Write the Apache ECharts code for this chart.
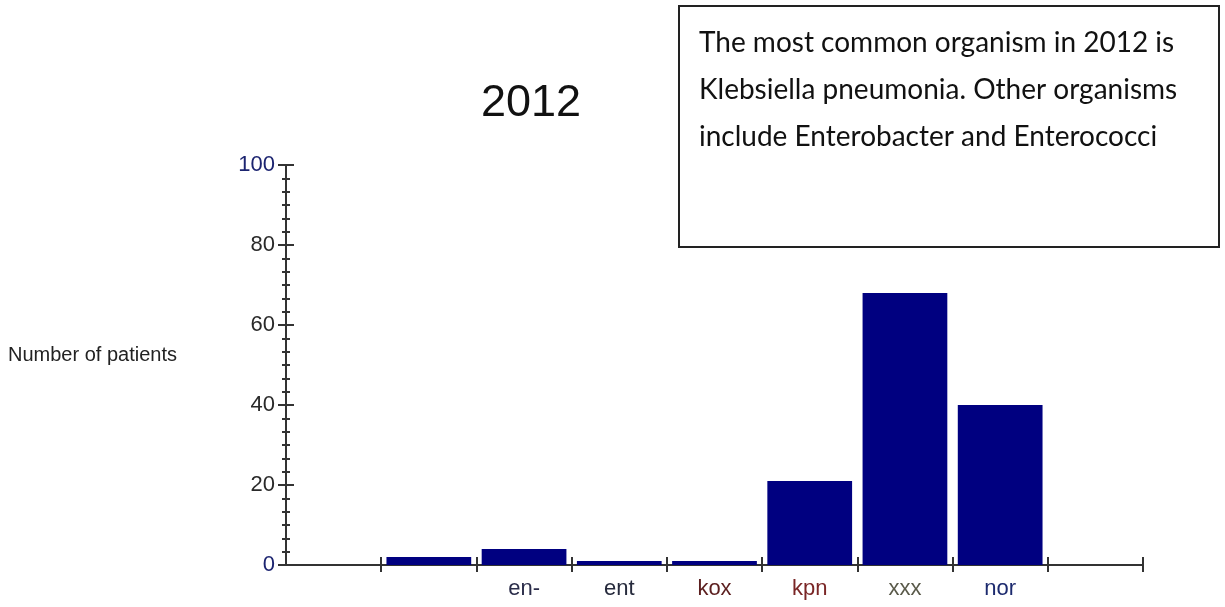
<!DOCTYPE html>
<html>
<head>
<meta charset="utf-8">
<script src="https://cdn.jsdelivr.net/npm/echarts@6/dist/echarts.min.js"></script>
<style>
  html, body { margin: 0; padding: 0; background: #fff; }
  #chart { width: 1225px; height: 607px; }
</style>
</head>
<body>
<div id="chart"></div>
<script>
// organism codes (first and last slots are empty on the original axis)
var categories = ['', '', 'en-', 'ent', 'kox', 'kpn', 'xxx', 'nor', ''];
var patients = [null, 2, 4, 1, 1, 21, 68, 40, null];
var yTicks = [0, 20, 40, 60, 80, 100];

var labelColors = {
  'en-': '#2b2d4a',
  'ent': '#262a3c',
  'kox': '#5c1f1f',
  'kpn': '#7a2626',
  'xxx': '#5a5a4a',
  'nor': '#1c2a6e'
};
var yLabelColors = { '0': '#1c2470', '100': '#1c2470' };

var chart = echarts.init(document.getElementById('chart'));

// skip the tick that would sit on the y axis corner
function skipFirst(i) { return i !== 0; }

chart.setOption({
  animation: false,
  backgroundColor: '#fff',
  title: {
    text: '2012',
    left: 526,
    top: 76,
    textAlign: 'center',
    textStyle: {
      fontFamily: 'Liberation Sans, Arial',
      fontWeight: 'normal',
      fontSize: 45,
      color: '#111'
    }
  },
  grid: {
    left: 286,
    right: 82,
    top: 165,
    bottom: 42,
    containLabel: false
  },
  xAxis: [{
    type: 'category',
    data: categories,
    position: 'bottom',
    axisLine: { lineStyle: { color: '#333', width: 2 } },
    axisTick: { show: true, inside: false, length: 7, interval: skipFirst, lineStyle: { color: '#333', width: 2 } },
    axisLabel: {
      margin: 13,
      fontFamily: 'Liberation Sans, Arial',
      fontSize: 22,
      color: function (v) { return labelColors[v] || '#333'; }
    },
    splitLine: { show: false }
  }, {
    type: 'category',
    data: categories,
    position: 'bottom',
    axisLine: { show: false },
    axisTick: { show: true, inside: true, length: 8, interval: skipFirst, lineStyle: { color: '#333', width: 2 } },
    axisLabel: { show: false },
    splitLine: { show: false }
  }],
  yAxis: [{
    type: 'value',
    min: yTicks[0],
    max: yTicks[yTicks.length - 1],
    interval: 20,
    position: 'left',
    axisLine: { show: true, lineStyle: { color: '#333', width: 2 } },
    axisTick: { show: true, inside: false, length: 8, lineStyle: { color: '#333', width: 2 } },
    minorTick: { show: true, splitNumber: 6, length: 4, lineStyle: { color: '#333', width: 2 } },
    axisLabel: {
      margin: 11,
      fontFamily: 'Liberation Sans, Arial',
      fontSize: 22,
      color: function (v) { return yLabelColors[String(v)] || '#2a2a2a'; }
    },
    splitLine: { show: false }
  }, {
    type: 'value',
    min: yTicks[0],
    max: yTicks[yTicks.length - 1],
    interval: 20,
    position: 'left',
    axisLine: { show: false },
    axisTick: { show: true, inside: true, length: 8, lineStyle: { color: '#333', width: 2 } },
    minorTick: { show: true, splitNumber: 6, length: 4, lineStyle: { color: '#333', width: 2 } },
    axisLabel: { show: false },
    splitLine: { show: false }
  }],
  graphic: [{
    type: 'text',
    left: 8,
    top: 345,
    style: {
      text: 'Number of patients',
      font: '20px "Liberation Sans", Arial',
      fill: '#222'
    }
  }, {
    type: 'group',
    left: 678,
    top: 5,
    children: [{
      type: 'rect',
      shape: { x: 0, y: 0, width: 540, height: 241 },
      style: { fill: '#fff', stroke: '#222', lineWidth: 2 }
    }, {
      type: 'text',
      left: 20,
      top: 13,
      style: {
        text: 'The most common organism in 2012 is\nKlebsiella pneumonia. Other organisms\ninclude Enterobacter and Enterococci',
        font: '28px Lato, "Open Sans", sans-serif',
        lineHeight: 47,
        fill: '#111'
      }
    }]
  }],
  series: [{
    type: 'bar',
    xAxisIndex: 0,
    yAxisIndex: 0,
    data: patients,
    barCategoryGap: '11%',
    itemStyle: { color: '#000080' }
  }]
});
</script>
</body>
</html>
